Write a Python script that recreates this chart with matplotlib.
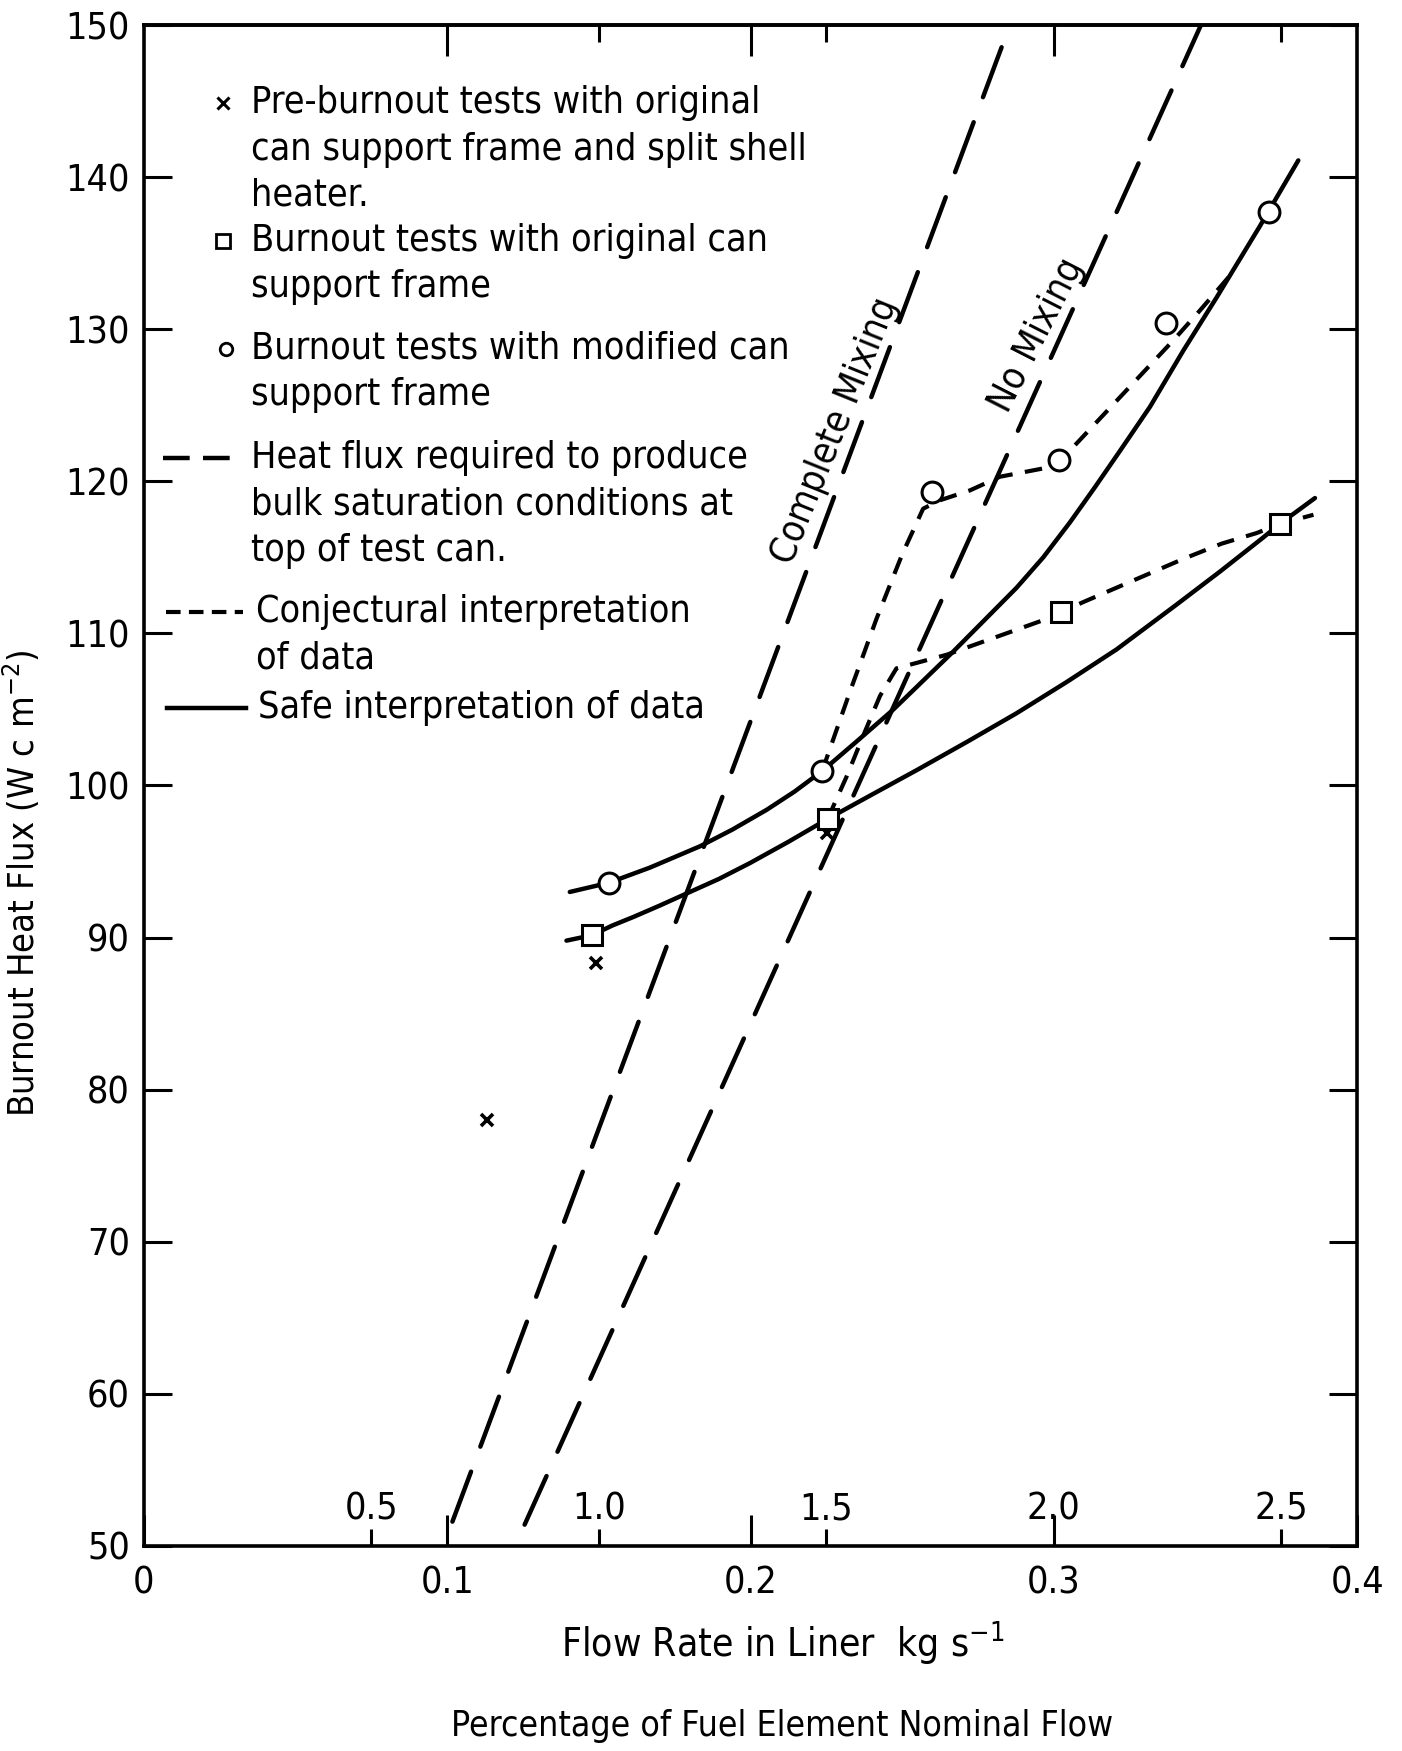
import matplotlib
matplotlib.use('Agg')
import matplotlib.pyplot as plt
import matplotlib.transforms as mtransforms

plt.rcParams['font.family'] = ['DejaVu Sans']
plt.rcParams['font.stretch'] = 'condensed'
plt.rcParams['mathtext.fontset'] = 'dejavusans'

# ---- data ----
# pre-burnout tests (x)
pre_x = [0.113, 0.1492, 0.2251]
pre_y = [78.0, 88.3, 96.9]
# burnout tests, original frame (squares)
orig_x = [0.1476, 0.2254, 0.3024, 0.3745]
orig_y = [90.15, 97.8, 111.4, 117.2]
# burnout tests, modified frame (circles)
mod_x = [0.1532, 0.2236, 0.2597, 0.3017, 0.3369, 0.3710]
mod_y = [93.6, 100.95, 119.3, 121.4, 130.4, 137.7]

# safe interpretation (solid)
safe_mod_x = [0.1404, 0.1532, 0.1668, 0.1833, 0.1940, 0.2053, 0.2145, 0.2236,
              0.2350, 0.2471, 0.2668, 0.2877, 0.2965, 0.3053, 0.3135, 0.3218,
              0.3317, 0.3427, 0.3537, 0.3680, 0.3806]
safe_mod_y = [93.0, 93.6, 94.6, 96.0, 97.1, 98.4, 99.6, 100.95,
              102.9, 105.0, 108.8, 113.0, 115.0, 117.3, 119.6, 122.0,
              124.9, 128.6, 132.1, 136.8, 141.1]
safe_orig_x = [0.1393, 0.1476, 0.1545, 0.1613, 0.1700, 0.1789, 0.1895, 0.1998,
               0.2125, 0.2254, 0.2400, 0.2547, 0.2712, 0.2877, 0.3042, 0.3207,
               0.3405, 0.3550, 0.3690, 0.3745, 0.3861]
safe_orig_y = [89.8, 90.15, 90.8, 91.35, 92.1, 92.9, 93.85, 94.9,
               96.3, 97.8, 99.4, 101.0, 102.85, 104.75, 106.8, 108.95,
               111.9, 114.1, 116.3, 117.2, 118.9]

# conjectural interpretation (short dashes)
conj_orig_x = [0.2254, 0.2317, 0.2372, 0.2427, 0.2481, 0.2647, 0.2965, 0.3024,
               0.3097, 0.3427, 0.3553, 0.3669, 0.3745, 0.3856]
conj_orig_y = [97.8, 100.6, 103.3, 105.9, 107.7, 108.6, 110.87, 111.4,
               112.06, 114.9, 115.9, 116.6, 117.2, 117.8]
conj_mod_x = [0.2236, 0.2330, 0.2416, 0.2500, 0.2569, 0.2624, 0.2723, 0.2822,
              0.3005, 0.3394, 0.3482, 0.3586]
conj_mod_y = [100.95, 106.3, 111.0, 115.2, 118.2, 118.75, 119.4, 120.3,
              121.0, 129.27, 131.24, 133.65]

# heat flux for bulk saturation (long dashes)
cm_x = [0.1017, 0.2855]
cm_y = [51.6, 150.0]
nm_x = [0.1255, 0.3485]
nm_y = [51.4, 150.0]

x_ticks = [0, 0.1, 0.2, 0.3, 0.4]
x_ticklabels = ['0', '0.1', '0.2', '0.3', '0.4']
y_ticks = [50, 60, 70, 80, 90, 100, 110, 120, 130, 140, 150]
pct_vals = [0.5, 1.0, 1.5, 2.0, 2.5]
pct_per_kg = 0.15          # 1.0 x nominal flow = 0.15 kg/s
top_ticks_major = [0.1, 0.2, 0.3]
top_ticks_minor = [0.15, 0.225, 0.375]

legend_entries = [
    ('x', ['Pre-burnout tests with original',
           'can support frame and split shell',
           'heater.']),
    ('s', ['Burnout tests with original can',
           'support frame']),
    ('o', ['Burnout tests with modified can',
           'support frame']),
    ('long', ['Heat flux required to produce',
              'bulk saturation conditions at',
              'top of test can.']),
    ('short', ['Conjectural interpretation',
               'of data']),
    ('solid', ['Safe interpretation of data']),
]
legend_rows = [0.9486, 0.8583, 0.7871, 0.7151, 0.6138, 0.5507]

FS = 27
LW = 3.2
LONG = (0, (12, 6))
SHORT = (0, (4.2, 3))

fig = plt.figure(figsize=(14.02, 17.51), dpi=100)
ax = fig.add_axes([0.1027, 0.1171, 0.8653, 0.8686])

# long-dashed saturation lines
ax.plot(cm_x, cm_y, color='black', lw=LW, linestyle=LONG, dash_capstyle='round')
ax.plot(nm_x, nm_y, color='black', lw=LW, linestyle=LONG, dash_capstyle='round')

# conjectural
ax.plot(conj_orig_x, conj_orig_y, color='black', lw=3.0, linestyle=SHORT)
ax.plot(conj_mod_x, conj_mod_y, color='black', lw=3.0, linestyle=SHORT)

# safe
ax.plot(safe_mod_x, safe_mod_y, color='black', lw=LW, solid_capstyle='round',
        solid_joinstyle='round')
ax.plot(safe_orig_x, safe_orig_y, color='black', lw=LW, solid_capstyle='round',
        solid_joinstyle='round')

# data points
ax.plot(pre_x, pre_y, linestyle='none', marker='x', ms=9, mew=2.6, color='black')
ax.plot(orig_x, orig_y, linestyle='none', marker='s', ms=14, mew=2.2,
        mfc='white', mec='black', zorder=5)
ax.plot(mod_x, mod_y, linestyle='none', marker='o', ms=15, mew=2.2,
        mfc='white', mec='black', zorder=5)

# line labels
ax.text(0.228, 123.3, 'Complete Mixing', rotation=68, ha='center', va='center',
        fontsize=FS, rotation_mode='anchor')
ax.text(0.2943, 129.6, 'No Mixing', rotation=63, ha='center', va='center',
        fontsize=FS, rotation_mode='anchor')

# legend drawn by hand
line_gap = 0.0305
for (kind, lines), y0 in zip(legend_entries, legend_rows):
    tx = 0.0884
    if kind == 'x':
        ax.plot([0.0654], [y0], transform=ax.transAxes, marker='x', ms=8,
                mew=2.2, color='black', clip_on=False)
    elif kind == 's':
        ax.plot([0.0654], [y0], transform=ax.transAxes, marker='s', ms=10,
                mew=2.0, mfc='white', mec='black', clip_on=False)
    elif kind == 'o':
        ax.plot([0.0677], [y0], transform=ax.transAxes, marker='o', ms=9,
                mew=2.0, mfc='white', mec='black', clip_on=False)
    elif kind == 'long':
        ax.plot([0.016, 0.077], [y0, y0], transform=ax.transAxes, color='black',
                lw=LW, linestyle=(0, (6, 3)))
    elif kind == 'short':
        ax.plot([0.018, 0.082], [y0, y0], transform=ax.transAxes, color='black',
                lw=3.0, linestyle=(0, (3.5, 2)))
        tx = 0.0920
    else:
        ax.plot([0.019, 0.084], [y0, y0], transform=ax.transAxes, color='black',
                lw=LW)
        tx = 0.0940
    for i, ln in enumerate(lines):
        ax.text(tx, y0 - i * line_gap, ln, transform=ax.transAxes,
                ha='left', va='center', fontsize=FS)

# axes, ticks
ax.set_xlim(0, 0.4)
ax.set_ylim(50, 150)
ax.set_xticks(x_ticks)
ax.set_xticklabels(x_ticklabels)
ax.set_xticks([v * pct_per_kg for v in pct_vals], minor=True)
ax.set_yticks(y_ticks)
ax.tick_params(axis='y', which='major', direction='in', length=20, width=2.2,
               left=True, right=True, labelsize=FS, pad=10)
ax.tick_params(axis='x', which='major', direction='in', length=22, width=2.2,
               top=False, bottom=True, labelsize=FS, pad=14)
ax.tick_params(axis='x', which='minor', direction='in', length=12, width=2.2,
               top=False, bottom=True)
for sp in ax.spines.values():
    sp.set_linewidth(2.6)

top = ax.secondary_xaxis('top')
top.set_xticks(top_ticks_major)
top.set_xticks(top_ticks_minor, minor=True)
top.tick_params(which='major', direction='in', length=22, width=2.2, labeltop=False)
top.tick_params(which='minor', direction='in', length=12, width=2.2)
top.spines['top'].set_linewidth(2.6)

# percentage-of-nominal labels inside the axes
trans = mtransforms.blended_transform_factory(ax.transData, ax.transAxes)
for v in pct_vals:
    ax.text(v * pct_per_kg, 0.012, f'{v:.1f}', transform=trans, ha='center',
            va='bottom', fontsize=FS)

ax.set_ylabel('Burnout Heat Flux (W c m$^{-2}$)', fontsize=26)
ax.yaxis.set_label_coords(-0.084, 0.436)
fig.text(0.558, 0.0622, 'Flow Rate in Liner  kg s$^{-1}$', ha='center',
         va='center', fontsize=28)
fig.text(0.558, 0.0143, 'Percentage of Fuel Element Nominal Flow', ha='center',
         va='center', fontsize=25.5)

fig.savefig('out.png', dpi=100)
